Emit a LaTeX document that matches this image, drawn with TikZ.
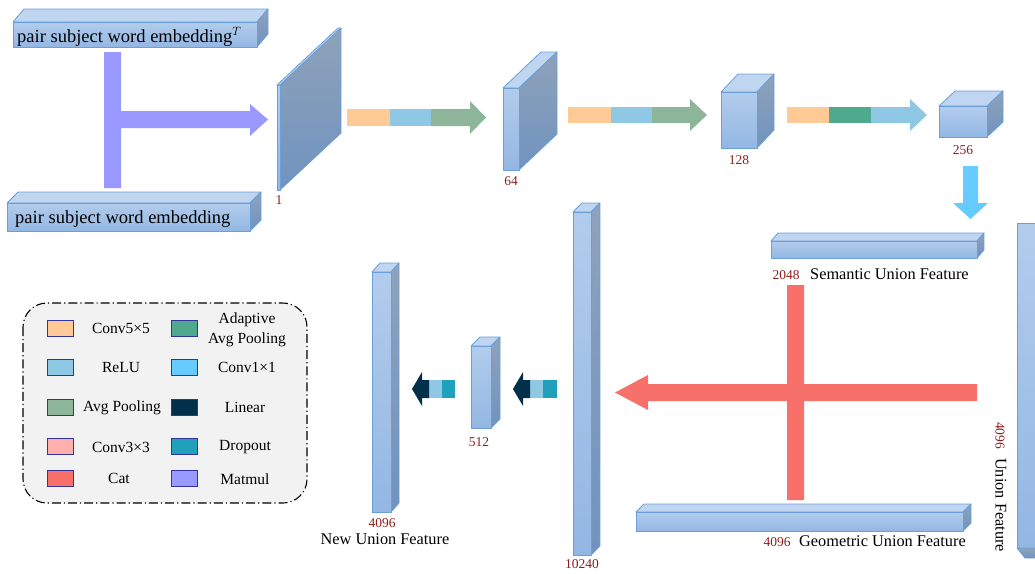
\documentclass[tikz,border=0pt]{standalone}
\usepackage{fontspec}
\setmainfont{Liberation Serif}
\usetikzlibrary{calc}

\definecolor{boxtop}{HTML}{C0D5EF}
\definecolor{boxfronta}{HTML}{B2CCEC}
\definecolor{boxfrontb}{HTML}{93B7E3}
\definecolor{boxsidea}{HTML}{8FA2BA}
\definecolor{boxsideb}{HTML}{7093BF}
\definecolor{boxedge}{HTML}{6A9FDA}
\definecolor{numred}{HTML}{8C1D1D}
\definecolor{cfive}{HTML}{FFCA96}
\definecolor{relu}{HTML}{8EC8E4}
\definecolor{avgpool}{HTML}{8DB59A}
\definecolor{adapool}{HTML}{4FAA8D}
\definecolor{conone}{HTML}{66CCFF}
\definecolor{linear}{HTML}{02304A}
\definecolor{cthree}{HTML}{FFB0AC}
\definecolor{dropout}{HTML}{21A0BB}
\definecolor{cat}{HTML}{F8706A}
\definecolor{matmul}{HTML}{9999FF}
\definecolor{legendbg}{HTML}{F2F2F2}

\tikzset{
	topface/.style={draw=boxedge, fill=boxtop, line width=0.8pt, line join=round},
	sideface/.style={draw=boxedge, top color=boxsidea, bottom color=boxsideb, line width=0.8pt, line join=round},
	frontface/.style={draw=boxedge, top color=boxfronta, bottom color=boxfrontb, line width=0.8pt, line join=round},
	lbl/.style={font=\fontsize{16.3}{18}\selectfont, inner sep=0pt},
	num/.style={text=numred, font=\fontsize{13.5}{15}\selectfont, inner sep=0pt},
	lg/.style={font=\fontsize{15.5}{20}\selectfont, inner sep=0pt, align=center},
	swatch/.style={draw=black!30!blue!60!gray, line width=0.7pt},
}

% cuboid: name, front top-left, width, height, depth offset
\newcommand{\cuboid}[5]{%
	\coordinate (#1-tl) at #2;
	\coordinate (#1-tr) at ($(#1-tl)+(#3,0)$);
	\coordinate (#1-br) at ($(#1-tl)+(#3,#4)$);
	\draw[topface] (#1-tl) -- ($(#1-tl)+#5$) -- ($(#1-tr)+#5$) -- (#1-tr) -- cycle;
	\shade[sideface] (#1-tr) -- ($(#1-tr)+#5$) -- ($(#1-br)+#5$) -- (#1-br) -- cycle;
	\shade[frontface] (#1-tl) rectangle (#1-br);
}

\begin{document}
\begin{tikzpicture}[x=1pt, y=-1pt]
	\useasboundingbox (0,0) rectangle (1035,573);
	
	% word embeddings
	\cuboid{embt}{(13,22)}{244}{25}{(11,-13)}
	\cuboid{emb}{(7,203)}{243}{28}{(11,-11)}
	\node[font=\fontsize{18.5}{20}\selectfont, inner sep=0pt, anchor=base west] (embtxt) at (17,42) {pair subject word embedding$^{T}$};
	\node[font=\fontsize{18.5}{20}\selectfont, inner sep=0pt, anchor=base west] (embbtxt) at (15,223) {pair subject word embedding};
	
	% matmul
	\fill[matmul] (104,52) rectangle (121,188) (121,111) rectangle (250,128) (250,104)--(268,119.5)--(250,136)--cycle;
	
	% conv stages
	\cuboid{one}{(277,85)}{3}{105}{(61,-57)}
	\cuboid{sixfour}{(503,88)}{16}{82}{(38,-36)}
	\cuboid{onetwoeight}{(721,92)}{36}{56}{(17,-18)}
	\cuboid{twofivesix}{(939,106)}{48}{31}{(16,-15)}
	
	\fill[cfive] (347,109) rectangle (390,126);
	\fill[relu] (390,109) rectangle (431,126);
	\fill[avgpool] (431,109) rectangle (470,126) (470,101)--(486,117.5)--(470,134)--cycle;
	
	\fill[cfive] (568,107) rectangle (611,123);
	\fill[relu] (611,107) rectangle (652,123);
	\fill[avgpool] (652,107) rectangle (690,123) (690,99)--(707,115)--(690,131)--cycle;
	
	\fill[cfive] (787,107) rectangle (829,123);
	\fill[adapool] (829,107) rectangle (871,123);
	\fill[relu] (871,107) rectangle (910,123) (910,99)--(927,115)--(910,131)--cycle;
	
	% conv1x1
	\fill[conone] (963,166) rectangle (978,203) (953,203)--(988,203)--(970.5,219)--cycle;
	
	\path
	(279,204) node[num, anchor=base] (n1){1}
	(511,185) node[num, anchor=base] (n64){64}
	(739,164) node[num, anchor=base] (n128){128}
	(963,154) node[num, anchor=base] (n256){256}
	;
	
	% union features
	\cuboid{sem}{(771,241)}{206}{17}{(7,-8)}
	\cuboid{geo}{(636,512)}{327}{19}{(8,-8)}
	\shade[frontface] (1017,223) rectangle (1045,548);
	\shade[sideface] (1017,548) -- (1045,548) -- (1053,558) -- (1025,558) -- cycle;
	
	\node[num, anchor=base] (n2048) at (786,279) {2048};
	\node[lbl, anchor=base west] (semtxt) at (810,279) {Semantic Union Feature};
	\node[num, anchor=base] (ngeo) at (777,546) {4096};
	\node[lbl, anchor=base west] (geotxt) at (799,546) {Geometric Union Feature};
	\node[lbl, rotate=-90, anchor=west] (unitxt) at (1001,422) {{\color{numred}\fontsize{13.5}{15}\selectfont 4096}\hspace{9pt}Union Feature};
	
	% cat
	\fill[cat] (787,285) rectangle (804,500) (648,384) rectangle (977,401) (648,375)--(615,392.5)--(648,410)--cycle;
	
	% linear head
	\cuboid{tenk}{(573,212)}{18}{343}{(9,-9)}
	\cuboid{fivetwelve}{(471,346)}{20}{82}{(9,-9)}
	\cuboid{newu}{(372,272)}{19}{240}{(8,-9)}
	
	\fill[dropout] (543,380) rectangle (557,398);
	\fill[relu] (530,380) rectangle (543,398);
	\fill[linear] (522,380) rectangle (530,398) (523,372)--(513,389)--(523,406)--cycle;
	\fill[dropout] (442,380) rectangle (455,398);
	\fill[relu] (429,380) rectangle (442,398);
	\fill[linear] (421,380) rectangle (429,398) (422,372)--(412,389)--(422,406)--cycle;
	
	\path
	(582,568) node[num, anchor=base] (n10240){10240}
	(479,446) node[num, anchor=base] (n512){512}
	(382,527) node[num, anchor=base] (nnew){4096}
	(385,544) node[lbl, anchor=base] (newtxt){New Union Feature}
	;
	
	% legend
	\draw[line width=1.1pt, dash pattern=on 9pt off 3pt on 1.2pt off 3pt, rounded corners=24pt, fill=legendbg] (23,303) rectangle (307,503);
	\foreach \y/\ca/\cb in {328/cfive/adapool, 367/relu/conone, 407/avgpool/linear, 446/cthree/dropout, 478/cat/matmul}{
		\draw[swatch, fill=\ca] (47,\y-8) rectangle (73,\y+8);
		\draw[swatch, fill=\cb] (171,\y-8) rectangle (197,\y+8);
	}
	\path
	(121,328) node[lg] (lconvfive){Conv5×5}
	(121,367) node[lg] (lrelu){ReLU}
	(122,408) node[lg] (lavg){Avg Pooling}
	(121,447) node[lg] (lconvthree){Conv3×3}
	(119,478) node[lg] (lcat){Cat}
	(247,330) node[lg] (ladapt){Adaptive\\Avg Pooling}
	(247,367) node[lg] (lconvone){Conv1×1}
	(245,407) node[lg] (llinear){Linear}
	(245,447) node[lg] (ldropout){Dropout}
	(245,479) node[lg] (lmatmul){Matmul}
	;
\end{tikzpicture}
\end{document}
